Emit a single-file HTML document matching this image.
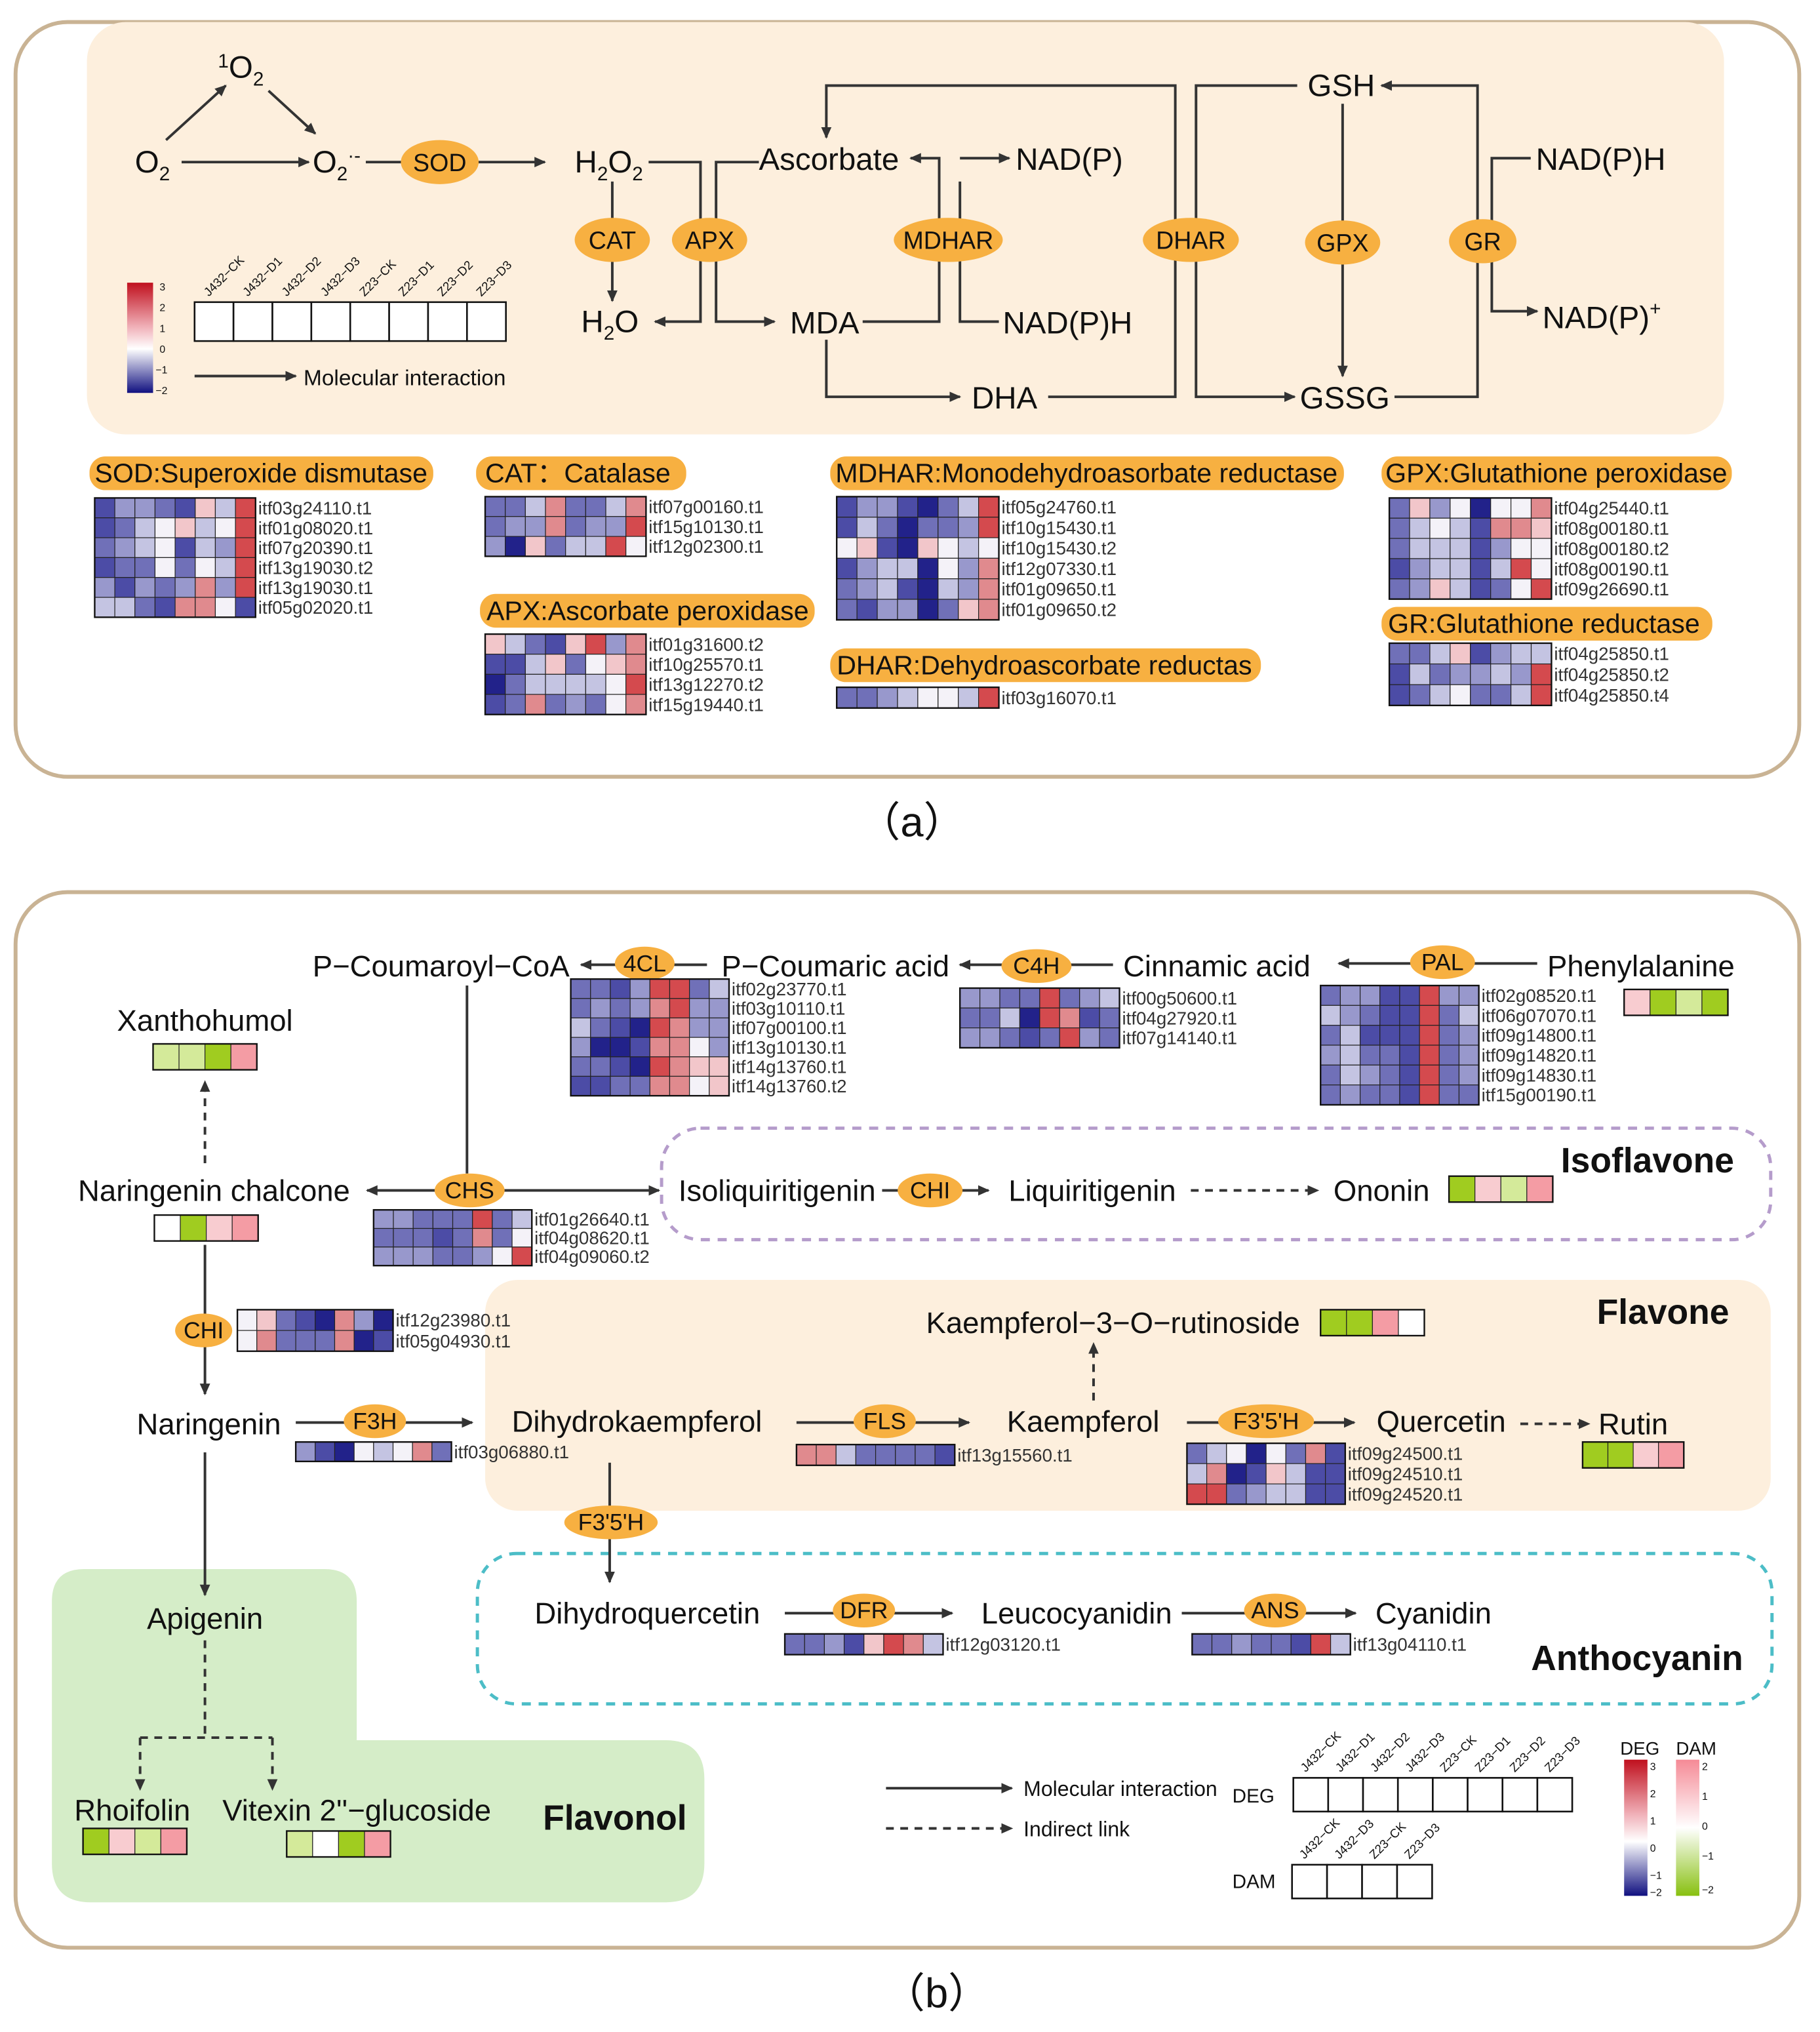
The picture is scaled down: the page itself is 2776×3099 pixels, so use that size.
<!DOCTYPE html>
<html><head><meta charset="utf-8"><style>
html,body{margin:0;padding:0;background:#fff}
svg{display:block}
text{font-family:"Liberation Sans",Arial,sans-serif;fill:#111}
.g{font-size:14px;fill:#333}
.m{font-size:24px}
.e{font-size:19px;text-anchor:middle}
.p{font-size:20.8px}
.b{font-size:23px;text-anchor:middle}
.bold{font-weight:bold;font-size:27px;text-anchor:middle}
.ln{stroke:#333;stroke-width:2;fill:none}
.dl{stroke:#333;stroke-width:2;fill:none;stroke-dasharray:6,5}
</style></head><body>
<svg id="s" xmlns="http://www.w3.org/2000/svg" width="2776" height="3099" viewBox="0 0 1403 1567" preserveAspectRatio="none">
<defs>
<marker id="a" markerWidth="10" markerHeight="10" refX="8" refY="5" orient="auto" markerUnits="userSpaceOnUse"><path d="M0,1 L9,5 L0,9 z" fill="#333"/></marker>
<linearGradient id="gd" x1="0" y1="0" x2="0" y2="1"><stop offset="0" stop-color="#c0101e"/><stop offset="0.4" stop-color="#f0b0b8"/><stop offset="0.6" stop-color="#fff"/><stop offset="1" stop-color="#101080"/></linearGradient>
<linearGradient id="gm" x1="0" y1="0" x2="0" y2="1"><stop offset="0" stop-color="#f58a96"/><stop offset="0.5" stop-color="#fff"/><stop offset="1" stop-color="#88c010"/></linearGradient>
</defs>
<!-- Panel a -->
<rect x="12" y="17" width="1375" height="582" rx="40" fill="#fff" stroke="#c9b394" stroke-width="3"/>
<rect x="67" y="17" width="1262" height="318" rx="30" fill="#fdefdd"/>
<text class="m" x="104" y="133">O<tspan font-size="15" dy="6">2</tspan></text>
<text class="m" x="168" y="60"><tspan font-size="15" dy="-8">1</tspan><tspan dy="8">O</tspan><tspan font-size="15" dy="6">2</tspan></text>
<text class="m" x="241" y="133">O<tspan font-size="15" dy="6">2</tspan><tspan font-size="15" dy="-14">·-</tspan></text>
<path class="ln" d="M128 108 L174 66" marker-end="url(#a)"/>
<path class="ln" d="M207 70 L243 103" marker-end="url(#a)"/>
<path class="ln" d="M140 125 L238 125" marker-end="url(#a)"/>
<path class="ln" d="M282 125 H420" marker-end="url(#a)"/>
<text class="m" x="443" y="133">H<tspan font-size="15" dy="6">2</tspan><tspan dy="-6">O</tspan><tspan font-size="15" dy="6">2</tspan></text>
<text class="m" x="448" y="256">H<tspan font-size="15" dy="6">2</tspan><tspan dy="-6">O</tspan></text>
<path class="ln" d="M472 140 V232" marker-end="url(#a)"/>
<path class="ln" d="M500 125 H540 V248 H505" marker-end="url(#a)"/>
<path class="ln" d="M585 125 H552 V248 H597" marker-end="url(#a)"/>
<text class="m" x="585" y="131">Ascorbate</text>
<text class="m" x="609" y="257">MDA</text>
<path class="ln" d="M665 248 H724 V122 H702" marker-end="url(#a)"/>
<path class="ln" d="M740 122 H778" marker-end="url(#a)"/>
<path class="ln" d="M740 140 V248 H770"/>
<text class="m" x="783" y="131">NAD(P)</text>
<text class="m" x="773" y="257">NAD(P)H</text>
<path class="ln" d="M637 262 V306 H740" marker-end="url(#a)"/>
<text class="m" x="749" y="315">DHA</text>
<path class="ln" d="M808 306 H906 V66 H637 V106" marker-end="url(#a)"/>
<path class="ln" d="M1000 66 H922 V306 H998" marker-end="url(#a)"/>
<text class="m" x="1008" y="74">GSH</text>
<text class="m" x="1002" y="315">GSSG</text>
<path class="ln" d="M1035 80 V290" marker-end="url(#a)"/>
<path class="ln" d="M1075 306 H1139 V66 H1065" marker-end="url(#a)"/>
<path class="ln" d="M1180 122 H1150 V240 H1185" marker-end="url(#a)"/>
<text class="m" x="1184" y="131">NAD(P)H</text>
<text class="m" x="1189" y="253">NAD(P)<tspan font-size="15" dy="-10">+</tspan></text>
<g fill="#f7b041">
<ellipse cx="339" cy="125" rx="30" ry="17"/><ellipse cx="472" cy="185" rx="29" ry="17"/><ellipse cx="547" cy="185" rx="29" ry="17"/>
<ellipse cx="731" cy="185" rx="42" ry="17"/><ellipse cx="918" cy="185" rx="37" ry="17"/><ellipse cx="1035" cy="187" rx="29" ry="17"/><ellipse cx="1143" cy="186" rx="26" ry="17"/>
</g>
<text class="e" x="339" y="132">SOD</text><text class="e" x="472" y="192">CAT</text><text class="e" x="547" y="192">APX</text>
<text class="e" x="731" y="192">MDHAR</text><text class="e" x="918" y="192">DHAR</text><text class="e" x="1035" y="194">GPX</text><text class="e" x="1143" y="193">GR</text>
<!-- legend a -->
<rect x="98" y="218" width="20" height="85" fill="url(#gd)"/>
<g font-size="8" fill="#333"><text x="123" y="224">3</text><text x="123" y="240">2</text><text x="123" y="256">1</text><text x="123" y="272">0</text><text x="120" y="288">−1</text><text x="120" y="304">−2</text></g>
<g id="leg1"></g>
<path class="ln" d="M150 290 H228" marker-end="url(#a)"/>
<text x="234" y="297" font-size="16.9">Molecular interaction</text>
<!-- pills -->
<g fill="#f7b041">
<rect x="69" y="352" width="265" height="26" rx="12"/><rect x="367" y="352" width="162" height="26" rx="12"/>
<rect x="640" y="352" width="396" height="26" rx="12"/><rect x="1065" y="352" width="270" height="26" rx="12"/>
<rect x="370" y="458" width="258" height="26" rx="12"/><rect x="640" y="500" width="332" height="26" rx="12"/>
<rect x="1065" y="468" width="255" height="26" rx="12"/>
</g>
<text class="p" x="73" y="372">SOD:Superoxide dismutase</text>
<text class="p" x="374" y="372">CAT：Catalase</text>
<text class="p" x="644" y="372">MDHAR:Monodehydroasorbate reductase</text>
<text class="p" x="1068" y="372">GPX:Glutathione peroxidase</text>
<text class="p" x="375" y="478">APX:Ascorbate peroxidase</text>
<text class="p" x="645" y="520">DHAR:Dehydroascorbate reductas</text>
<text class="p" x="1070" y="488">GR:Glutathione reductase</text>
<text x="703" y="645" font-size="32" text-anchor="middle">（a）</text>

<!-- Panel b -->
<rect x="12" y="688" width="1375" height="814" rx="40" fill="#fff" stroke="#c9b394" stroke-width="3"/>
<rect x="374" y="987" width="991" height="178" rx="25" fill="#fdefdd"/>
<path d="M65 1210 H250 Q275 1210 275 1235 V1342 H513 Q543 1342 543 1372 V1437 Q543 1467 513 1467 H70 Q40 1467 40 1437 V1235 Q40 1210 65 1210 Z" fill="#d5edc8"/>
<rect x="510" y="870" width="855" height="86" rx="30" fill="none" stroke="#b59ccb" stroke-width="2.5" stroke-dasharray="7,6"/>
<rect x="368" y="1198" width="998" height="116" rx="30" fill="none" stroke="#4cbdc7" stroke-width="2.5" stroke-dasharray="7,6"/>
<text class="bold" x="1270" y="904">Isoflavone</text>
<text class="bold" x="1282" y="1021">Flavone</text>
<text class="bold" x="1262" y="1288">Anthocyanin</text>
<text class="bold" x="474" y="1411">Flavonol</text>

<text class="b" x="340" y="753">P−Coumaroyl−CoA</text>
<path class="ln" d="M545 744 H448" marker-end="url(#a)"/>
<text class="b" x="644" y="753">P−Coumaric acid</text>
<path class="ln" d="M858 744 H740" marker-end="url(#a)"/>
<text class="b" x="938" y="753">Cinnamic acid</text>
<path class="ln" d="M1185 743 H1032" marker-end="url(#a)"/>
<text class="b" x="1265" y="753">Phenylalanine</text>
<text class="b" x="158" y="795">Xanthohumol</text>
<path class="dl" d="M158 897 V834" marker-end="url(#a)"/>
<path class="ln" d="M360 760 V905"/>
<path class="ln" d="M340 918 H283" marker-end="url(#a)"/>
<path class="ln" d="M385 918 H508" marker-end="url(#a)"/>
<text class="b" x="165" y="926">Naringenin chalcone</text>
<text class="b" x="599" y="926">Isoliquiritigenin</text>
<path class="ln" d="M680 918 H762" marker-end="url(#a)"/>
<text class="b" x="842" y="926">Liquiritigenin</text>
<path class="dl" d="M918 918 H1016" marker-end="url(#a)"/>
<text class="b" x="1065" y="926">Ononin</text>
<text class="b" x="858" y="1028">Kaempferol−3−O−rutinoside</text>
<path class="dl" d="M843 1080 V1036" marker-end="url(#a)"/>
<path class="ln" d="M158 960 V1075" marker-end="url(#a)"/>
<text class="b" x="161" y="1106">Naringenin</text>
<path class="ln" d="M228 1097 H364" marker-end="url(#a)"/>
<text class="b" x="491" y="1104">Dihydrokaempferol</text>
<path class="ln" d="M614 1097 H747" marker-end="url(#a)"/>
<text class="b" x="835" y="1104">Kaempferol</text>
<path class="ln" d="M915 1097 H1044" marker-end="url(#a)"/>
<text class="b" x="1111" y="1104">Quercetin</text>
<path class="dl" d="M1172 1098 H1225" marker-end="url(#a)"/>
<text class="b" x="1259" y="1106">Rutin</text>
<path class="ln" d="M470 1128 V1220" marker-end="url(#a)"/>
<text class="b" x="499" y="1252">Dihydroquercetin</text>
<path class="ln" d="M605 1244 H734" marker-end="url(#a)"/>
<text class="b" x="830" y="1252">Leucocyanidin</text>
<path class="ln" d="M911 1244 H1045" marker-end="url(#a)"/>
<text class="b" x="1105" y="1252">Cyanidin</text>
<path class="ln" d="M158 1120 V1230" marker-end="url(#a)"/>
<text class="b" x="158" y="1256">Apigenin</text>
<path class="dl" d="M158 1265 V1340 M108 1340 H210"/>
<path class="dl" d="M108 1340 V1380" marker-end="url(#a)"/>
<path class="dl" d="M210 1340 V1380" marker-end="url(#a)"/>
<text class="b" x="102" y="1404">Rhoifolin</text>
<text class="b" x="275" y="1404">Vitexin 2''−glucoside</text>
<g fill="#f7b041">
<ellipse cx="497" cy="743" rx="23" ry="13"/><ellipse cx="799" cy="745" rx="27" ry="13"/><ellipse cx="1112" cy="742" rx="25" ry="13"/>
<ellipse cx="362" cy="918" rx="27" ry="13"/><ellipse cx="717" cy="918" rx="25" ry="13"/><ellipse cx="157" cy="1026" rx="22" ry="13"/>
<ellipse cx="289" cy="1096" rx="24" ry="13"/><ellipse cx="682" cy="1096" rx="24" ry="13"/><ellipse cx="976" cy="1096" rx="37" ry="13"/>
<ellipse cx="471" cy="1174" rx="36" ry="13"/><ellipse cx="666" cy="1242" rx="24" ry="13"/><ellipse cx="983" cy="1242" rx="24" ry="13"/>
</g>
<g font-size="18" text-anchor="middle">
<text x="497" y="749">4CL</text><text x="799" y="751">C4H</text><text x="1112" y="748">PAL</text><text x="362" y="924">CHS</text>
<text x="717" y="924">CHI</text><text x="157" y="1032">CHI</text><text x="289" y="1102">F3H</text><text x="682" y="1102">FLS</text>
<text x="976" y="1102">F3'5'H</text><text x="471" y="1180">F3'5'H</text><text x="666" y="1248">DFR</text><text x="983" y="1248">ANS</text>
</g>
<!-- legend b -->
<path class="ln" d="M683 1379 H780" marker-end="url(#a)"/>
<text x="789" y="1385" font-size="16.2">Molecular interaction</text>
<path class="dl" d="M683 1410 H780" marker-end="url(#a)"/>
<text x="789" y="1416" font-size="16.2">Indirect link</text>
<text x="950" y="1390" font-size="15">DEG</text>
<text x="950" y="1456" font-size="15">DAM</text>
<g id="leg2"></g>
<rect x="1252" y="1357" width="18" height="105" fill="url(#gd)"/>
<rect x="1292" y="1357" width="18" height="105" fill="url(#gm)"/>
<text x="1249" y="1353" font-size="14">DEG</text><text x="1292" y="1353" font-size="14">DAM</text>
<g font-size="8" fill="#333"><text x="1272" y="1365">3</text><text x="1272" y="1386">2</text><text x="1272" y="1407">1</text><text x="1272" y="1428">0</text><text x="1272" y="1449">−1</text><text x="1272" y="1462">−2</text>
<text x="1312" y="1365">2</text><text x="1312" y="1388">1</text><text x="1312" y="1411">0</text><text x="1312" y="1434">−1</text><text x="1312" y="1460">−2</text></g>
<text x="722" y="1548" font-size="32" text-anchor="middle">（b）</text>
<g id="hm"></g>
</svg>
<script>
var NS="http://www.w3.org/2000/svg",H=document.getElementById('hm');
var C={'0':'#22228a','1':'#4c4ca6','2':'#7070b8','3':'#9898cc','4':'#c4c4e2','5':'#f4f2f8','6':'#f2c6ca','7':'#e08a8e','8':'#d44a4e',
g:'#a0cc20',h:'#d4ea9a',w:'#ffffff',p:'#f8ccd0',s:'#f49ca4'};
function el(t,a,p){var e=document.createElementNS(NS,t);for(var k in a)e.setAttribute(k,a[k]);(p||H).appendChild(e);return e;}
function hm(x,y,w,h,rows,labels){var n=rows.length,cw=w/rows[0].length,ch=h/n;
rows.forEach(function(r,i){for(var j=0;j<r.length;j++)el('rect',{x:x+j*cw,y:y+i*ch,width:cw,height:ch,fill:C[r[j]],stroke:'#222','stroke-width':0.6});
if(labels){var t=el('text',{x:x+w+2,y:y+i*ch+ch/2+5,'class':'g'});t.textContent=labels[i];}});
el('rect',{x:x,y:y,width:w,height:h,fill:'none',stroke:'#111','stroke-width':1.2});}
function box(x,y,w,h,n,labs,p){var cw=w/n;for(var j=0;j<n;j++){el('rect',{x:x+j*cw,y:y,width:cw,height:h,fill:'#fff',stroke:'#111','stroke-width':1.3},p);
var t=el('text',{x:0,y:0,'font-size':9.5,fill:'#333',transform:'translate('+(x+j*cw+cw/2-4)+','+(y-4)+') rotate(-45)'},p);t.textContent=labs[j];}}
var L8=['J432−CK','J432−D1','J432−D2','J432−D3','Z23−CK','Z23−D1','Z23−D2','Z23−D3'];
box(150,233,240,30,8,L8,document.getElementById('leg1'));
box(997,1371,215,26,8,L8,document.getElementById('leg2'));
box(996,1438,108,26,4,['J432−CK','J432−D3','Z23−CK','Z23−D3'],document.getElementById('leg2'));
hm(73,384,124,92,['13321648','12456458','23451438','12252548','31323738','44217751'],['itf03g24110.t1','itf01g08020.t1','itf07g20390.t1','itf13g19030.t2','itf13g19030.t1','itf05g02020.t1']);
hm(374,383,124,46,['22472247','23372338','30624485'],['itf07g00160.t1','itf15g10130.t1','itf12g02300.t1']);
hm(374,489,124,62,['64216837','11462567','02444458','12723257'],['itf01g31600.t2','itf10g25570.t1','itf13g12270.t2','itf15g19440.t1']);
hm(645,383,125,95,['13310248','14202238','56106545','13440537','23410437','21330267'],['itf05g24760.t1','itf10g15430.t1','itf10g15430.t2','itf12g07330.t1','itf01g09650.t1','itf01g09650.t2']);
hm(645,530,125,16,['22345548'],['itf03g16070.t1']);
hm(1071,384,125,78,['26350557','24541776','24441355','13441485','23641258'],['itf04g25440.t1','itf08g00180.t1','itf08g00180.t2','itf08g00190.t1','itf09g26690.t1']);
hm(1071,496,125,48,['22461344','14233438','12452248'],['itf04g25850.t1','itf04g25850.t2','itf04g25850.t4']);
hm(440,755,122,90,['22138824','23237833','42108733','30017753','22108766','11227756'],['itf02g23770.t1','itf03g10110.t1','itf07g00100.t1','itf13g10130.t1','itf14g13760.t1','itf14g13760.t2']);
hm(740,762,123,46,['33228234','22408712','33212832'],['itf00g50600.t1','itf04g27920.t1','itf07g14140.t1']);
hm(1018,760,122,92,['23311833','43211824','24111823','34221823','24321823','23221822'],['itf02g08520.t1','itf06g07070.t1','itf09g14800.t1','itf09g14820.t1','itf09g14830.t1','itf15g00190.t1']);
hm(288,933,122,43,['33222824','22212725','33322358'],['itf01g26640.t1','itf04g08620.t1','itf04g09060.t2']);
hm(183,1010,120,32,['56210730','57222701'],['itf12g23980.t1','itf05g04930.t1']);
hm(228,1112,120,15,['31054572'],['itf03g06880.t1']);
hm(614,1114,122,16,['77422221'],['itf13g15560.t1']);
hm(915,1113,122,47,['24505271','47016411','88234411'],['itf09g24500.t1','itf09g24510.t1','itf09g24520.t1']);
hm(605,1260,122,16,['22316874'],['itf12g03120.t1']);
hm(919,1260,122,16,['22322184'],['itf13g04110.t1']);
hm(1252,763,80,20,['pghg']);hm(118,805,80,20,['hhgs']);hm(119,937,80,20,['wgps']);
hm(1117,907,80,20,['gphs']);hm(1018,1010,80,20,['ggsw']);hm(1220,1112,78,20,['ggps']);
hm(64,1410,80,20,['gphs']);hm(221,1412,80,20,['hwgs']);
</script>
</body></html>
